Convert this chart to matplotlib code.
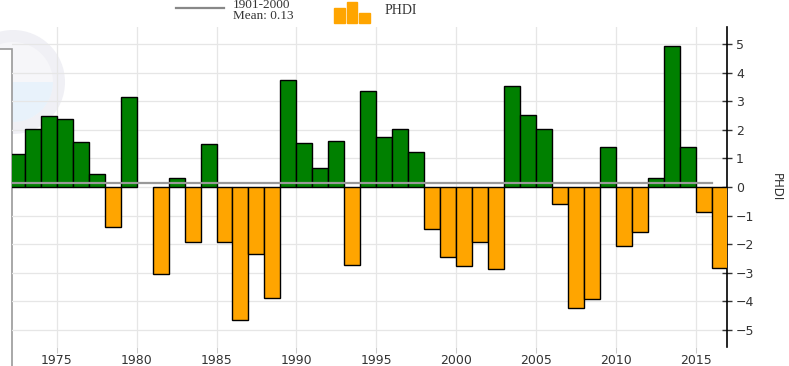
import matplotlib
matplotlib.use("Agg")
import matplotlib.pyplot as plt
from matplotlib.lines import Line2D
from matplotlib.patches import Rectangle, Circle, Wedge
import numpy as np

years = list(range(1972, 2017))
phdi = [1.17, 2.04, 2.48, 2.39, 1.57, 0.45, -1.40, 3.15, 0.0, -3.06,
        0.33, -1.93, 1.52, -1.91, -4.66, -2.35, -3.88, 3.75, 1.55, 0.66,
        1.60, -2.73, 3.36, 1.75, 2.04, 1.22, -1.48, -2.45, -2.76, -1.94,
        -2.88, 3.53, 2.51, 2.04, -0.60, -4.22, -3.93, 1.39, -2.07, -1.57,
        0.31, 4.93, 1.39, -0.87, -2.85]
mean_value = 0.13
mean_label_lines = ["1901-2000", "Mean: 0.13"]
series_label = "PHDI"
xticks = [1975, 1980, 1985, 1990, 1995, 2000, 2005, 2010, 2015]
yticks = [-5, -4, -3, -2, -1, 0, 1, 2, 3, 4, 5]

W, H = 789, 366
fig = plt.figure(figsize=(W / 100, H / 100), dpi=100)

def fx(px):
    return px / W

def fy(py):
    return 1 - py / H

# faint watermark logo (behind the axes)
logo_ax = fig.add_axes([0, 0, 1, 1], zorder=0)
logo_ax.set_xlim(0, W)
logo_ax.set_ylim(H, 0)
logo_ax.set_aspect("equal")
logo_ax.axis("off")
logo_ax.add_patch(Circle((13, 82), 52, facecolor="#f0f0f5", edgecolor="none"))
logo_ax.add_patch(Circle((13, 82), 40, facecolor="#f6f6f9", edgecolor="none"))
logo_ax.add_patch(Wedge((13, 82), 40, 0, 180, facecolor="#e8f2fb",
                        edgecolor="none"))
# white frame box at left
logo_ax.add_patch(Rectangle((-2, 49), 14, 330, facecolor="white",
                            edgecolor="#999999", linewidth=1.2, zorder=5))

ax = fig.add_axes([fx(12), fy(347), (727 - 12) / W, (347 - 27) / H], zorder=1)
ax.patch.set_alpha(0)

for y, v in zip(years, phdi):
    if v == 0:
        continue
    color = "#008000" if v > 0 else "#FFA500"
    ax.bar(y, v, width=1.0, align="edge", color=color, edgecolor="black",
           linewidth=1.0, zorder=3)

ax.plot([years[0], years[-1]], [mean_value, mean_value], color="#999999",
        linewidth=1.6, zorder=4)

ax.set_xlim(1972.2, 2016.95)
ax.set_ylim(-5.6, 5.6)
ax.set_xticks(xticks)
ax.set_yticks(yticks)
ax.grid(True, color="#e6e6e6", linewidth=0.9, zorder=0)
ax.set_axisbelow(True)

for s in ["top", "left", "bottom"]:
    ax.spines[s].set_visible(False)
ax.spines["right"].set_color("black")
ax.spines["right"].set_linewidth(1.2)
ax.yaxis.tick_right()
ax.tick_params(axis="y", which="both", direction="inout", length=7,
               width=1.0, labelsize=9, colors="#333333", pad=3)
ax.tick_params(axis="x", direction="out", length=4, width=0.8,
               color="#cccccc", labelsize=9, labelcolor="#333333", pad=1)

fig.text(fx(776), fy(187), series_label, rotation=270, fontsize=8.5,
         color="#333333", ha="center", va="center")

# legend
fig.add_artist(Line2D([fx(176), fx(224)], [fy(8), fy(8)],
                      color="#888888", linewidth=1.6, transform=fig.transFigure))
fig.text(fx(233), fy(5), mean_label_lines[0], fontsize=9.5,
         family="Liberation Serif", color="#333333", va="center", ha="left")
fig.text(fx(233), fy(16), mean_label_lines[1], fontsize=9.5,
         family="Liberation Serif", color="#333333", va="center", ha="left")
for bx, btop in [(334, 8), (346.5, 1.7), (359, 13)]:
    fig.add_artist(Rectangle((fx(bx), fy(22.7)), 10.5 / W, (22.7 - btop) / H,
                             color="#FFA500", transform=fig.transFigure))
fig.text(fx(385), fy(10), series_label, fontsize=10,
         family="Liberation Serif", color="#333333", va="center", ha="left")

fig.savefig("out.png", dpi=100)
